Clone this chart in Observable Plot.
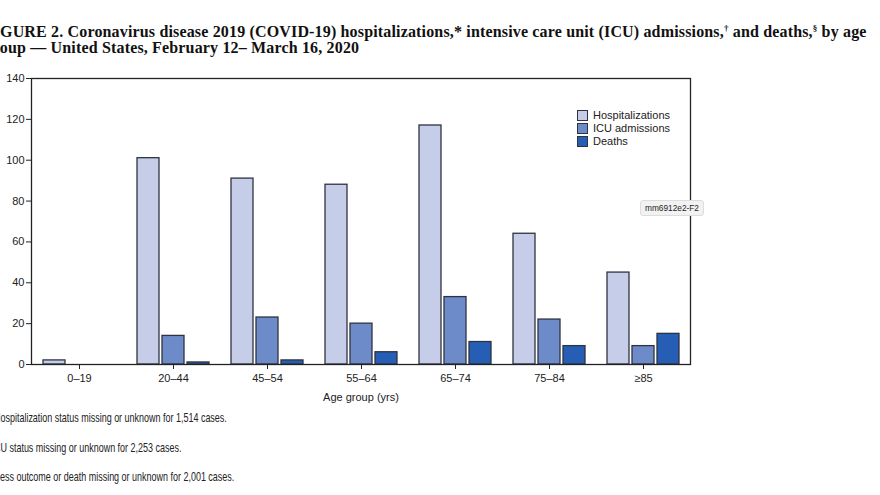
<!DOCTYPE html>
<html>
<head>
<meta charset="utf-8">
<script src="https://cdn.jsdelivr.net/npm/d3@7"></script>
<script src="https://cdn.jsdelivr.net/npm/@observablehq/plot@0.6"></script>
<style>
  html, body { margin: 0; padding: 0; background: #fff; overflow: hidden; }
  #wrap { position: relative; width: 880px; height: 495px; overflow: hidden; }
  .tl { position: absolute; font-family: "Liberation Serif", serif; font-weight: bold; font-size: 16px; letter-spacing: 0.16px; line-height: 16px; color: #111; white-space: nowrap; }
  .tl sup { font-size: 9px; line-height: 0; }
  #chart { position: absolute; left: 0; top: 60px; }
  #legend { position: absolute; left: 577px; top: 109px; font-family: "Liberation Sans", sans-serif; font-size: 11px; color: #222; line-height: 13px; }
  #legend div { display: flex; align-items: center; }
  #legend span.sw { display: inline-block; width: 9px; height: 9px; border: 1px solid #2e3340; margin-right: 5px; }
  #tag { position: absolute; left: 640px; top: 200px; padding: 2px 4px; background: #f2f2f2; border: 1px solid #ddd; border-radius: 3px; font-family: "Liberation Sans", sans-serif; font-size: 8.3px; color: #222; }
  .fn { position: absolute; font-family: "Liberation Sans", sans-serif; font-size: 13px; color: #222; white-space: nowrap; transform: scaleX(0.69); transform-origin: 0 0; }
</style>
</head>
<body>
<div id="wrap">
  <div class="tl" style="left:-16.3px; top:24px;">FIGURE 2. Coronavirus disease 2019 (COVID-19) hospitalizations,* intensive care unit (ICU) admissions,<sup>†</sup> and deaths,<sup>§</sup> by age</div>
  <div class="tl" style="left:-15.3px; top:40px;">group — United States, February 12– March 16, 2020</div>
  <div id="chart"></div>
  <div id="legend"></div>
  <div id="tag">mm6912e2-F2</div>
  <div class="fn" style="left:-12.5px; top:410px;">* Hospitalization status missing or unknown for 1,514 cases.</div>
  <div class="fn" style="left:-16.5px; top:440px;">† ICU status missing or unknown for 2,253 cases.</div>
  <div class="fn" style="left:-19px; top:469px;">§ Illness outcome or death missing or unknown for 2,001 cases.</div>
</div>
<script>
const ageGroups = ["0–19", "20–44", "45–54", "55–64", "65–74", "75–84", "≥85"];
const seriesNames = ["Hospitalizations", "ICU admissions", "Deaths"];
const hospitalizations = [2, 101, 91, 88, 117, 64, 45];
const icuAdmissions = [0, 14, 23, 20, 33, 22, 9];
const deaths = [0, 1, 2, 6, 11, 9, 15];
const yTicks = [0, 20, 40, 60, 80, 100, 120, 140];
const colors = ["#c5cde9", "#6d8bc9", "#275eb5"];

const seriesValues = [hospitalizations, icuAdmissions, deaths];
const rows = [];
seriesNames.forEach((s, i) => ageGroups.forEach((a, j) => rows.push({age: a, series: s, value: seriesValues[i][j]})));

const offsets = [-25, 0, 25];
const barMarks = seriesNames.map((s, i) =>
  Plot.barY(rows.filter(d => d.series === s && d.value > 0), {
    x: "age", y: "value", fill: "series", dx: offsets[i],
    insetLeft: 36, insetRight: 36,
    stroke: "#2e3340", strokeWidth: 1.3
  })
);

const chart = Plot.plot({
  width: 880,
  height: 349,
  marginTop: 18,
  marginLeft: 31,
  marginRight: 190,
  marginBottom: 45,
  style: {fontFamily: "'Liberation Sans', sans-serif", fontSize: "11px", color: "#222"},
  x: {domain: ageGroups, padding: 0, label: null},
  y: {domain: [0, 140], ticks: yTicks, label: null},
  color: {domain: seriesNames, range: colors},
  marks: [
    ...barMarks,
    Plot.frame({stroke: "#222", strokeWidth: 1.3}),
    Plot.axisY({ticks: yTicks, tickSize: 5, tickPadding: 2, label: null, stroke: "#222"}),
    Plot.axisX({tickSize: 5, tickPadding: 5, label: "Age group (yrs)", labelAnchor: "center", labelArrow: "none", labelOffset: 36, stroke: "#222", fontSize: 11})
  ]
});
document.getElementById("chart").appendChild(chart);

const legend = document.getElementById("legend");
seriesNames.forEach((s, i) => {
  const row = document.createElement("div");
  row.innerHTML = `<span class="sw" style="background:${colors[i]}"></span>${s}`;
  legend.appendChild(row);
});
</script>
</body>
</html>
